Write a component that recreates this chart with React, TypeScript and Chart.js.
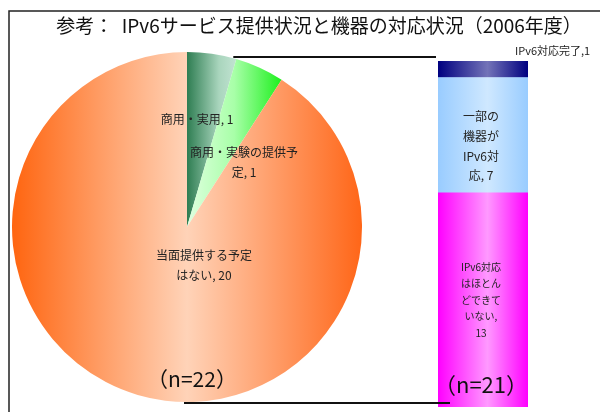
import React, { useEffect, useRef } from "react";
import { Chart, registerables } from "chart.js";
Chart.register(...registerables);

const titleText = "参考：  IPv6サービス提供状況と機器の対応状況（2006年度）";
const pieLabels = ["商用・実用", "商用・実験の提供予定", "当面提供する予定はない"];
const pieValues = [1, 1, 20];
const pieWrap = [[99], [9], [8]];
const pieSampleLabel = "（n=22）";
const barLabels = ["IPv6対応はほとんどできていない", "一部の機器がIPv6対応", "IPv6対応完了"];
const barValues = [13, 7, 1];
const barWrap = [[6, 4, 4, 4], [3, 3, 5], [99]];
const barSep = [", ", ", ", ","];
const barSampleLabel = "（n=21）";

const FONT = '"Noto Sans CJK JP", "Noto Sans", sans-serif';

function wrapText(text: string, counts: number[]): string[] {
  const out: string[] = [];
  let rest = text;
  for (const n of counts) {
    if (rest.length <= n) break;
    out.push(rest.slice(0, n));
    rest = rest.slice(n).trim();
  }
  if (rest.length) out.push(rest);
  return out;
}

function pieGeom(chart: any) {
  const a = chart.chartArea;
  const cx = (a.left + a.right) / 2;
  const cy = (a.top + a.bottom) / 2;
  const r = Math.min(a.right - a.left, a.bottom - a.top) / 2;
  return { cx, cy, r };
}

function pieFill(c: any) {
  const chart = c.chart;
  const a = chart.chartArea;
  if (!a) return "#ffb090";
  const { cx, r } = pieGeom(chart);
  const total = pieValues.reduce((s, v) => s + v, 0);
  let start = 0;
  for (let i = 0; i < c.dataIndex; i++) start += pieValues[i];
  const end = start + pieValues[c.dataIndex];
  let xmin = cx, xmax = cx;
  for (let k = 0; k <= 60; k++) {
    const t = ((start + ((end - start) * k) / 60) / total) * Math.PI * 2;
    const x = cx + r * Math.sin(t);
    xmin = Math.min(xmin, x);
    xmax = Math.max(xmax, x);
  }
  const g = chart.ctx.createLinearGradient(xmin, 0, xmax, 0);
  if (c.dataIndex === 0) {
    g.addColorStop(0, "#2e7d52");
    g.addColorStop(0.65, "#a9d5bd");
    g.addColorStop(1, "#c2e3d2");
  } else if (c.dataIndex === 1) {
    g.addColorStop(0, "#e0ffe0");
    g.addColorStop(0.5, "#a8ffa8");
    g.addColorStop(1, "#1ef01e");
  } else {
    g.addColorStop(0, "#ff6510");
    g.addColorStop(0.5, "#ffd3b8");
    g.addColorStop(1, "#ff6618");
  }
  return g;
}

const barColors = [
  ["#ff00ff", "#ff99ff"],
  ["#99ccff", "#cfe8ff"],
  ["#000080", "#7373b8"],
];

function barFill(i: number) {
  return (c: any) => {
    const chart = c.chart;
    const a = chart.chartArea;
    if (!a) return barColors[i][0];
    const g = chart.ctx.createLinearGradient(a.left, 0, a.right, 0);
    g.addColorStop(0, barColors[i][0]);
    g.addColorStop(0.55, barColors[i][1]);
    g.addColorStop(1, barColors[i][0]);
    return g;
  };
}

export default function App() {
  const pieRef = useRef<HTMLCanvasElement>(null);
  const barRef = useRef<HTMLCanvasElement>(null);

  useEffect(() => {
    const pieLabelPlugin = {
      id: "pieLabels",
      afterDraw(chart: any) {
        const ctx = chart.ctx;
        const { cx, cy, r } = pieGeom(chart);
        const offs = [
          [10 / 175, -108 / 175],
          [57 / 175, -75 / 175],
          [17 / 175, 28 / 175],
        ];
        ctx.save();
        ctx.fillStyle = "#222";
        ctx.textAlign = "center";
        ctx.textBaseline = "middle";
        ctx.font = `12px ${FONT}`;
        pieLabels.forEach((name, i) => {
          const lines = wrapText(`${name}, ${pieValues[i]}`, pieWrap[i]);
          lines.forEach((ln, k) => {
            ctx.fillText(ln, cx + offs[i][0] * r, cy + offs[i][1] * r + k * 20);
          });
        });
        ctx.font = `21px ${FONT}`;
        ctx.fillStyle = "#111";
        ctx.fillText(pieSampleLabel, cx + 5, cy + 0.869 * r);
        ctx.restore();
      },
    };

    const pie = new Chart(pieRef.current!, {
      type: "pie",
      data: {
        labels: pieLabels,
        datasets: [{ data: pieValues, backgroundColor: pieFill as any, borderWidth: 0 }],
      },
      options: {
        animation: false,
        responsive: false,
        layout: { padding: { left: 12, right: 238, top: 52, bottom: 10 } },
        plugins: { legend: { display: false }, tooltip: { enabled: false } },
      },
      plugins: [pieLabelPlugin],
    });

    const total = barValues.reduce((s, v) => s + v, 0);

    const overlayPlugin = {
      id: "overlay",
      afterDraw(chart: any) {
        const ctx = chart.ctx;
        const a = chart.chartArea;
        ctx.save();
        // frame
        ctx.strokeStyle = "#222";
        ctx.lineWidth = 1.5;
        ctx.beginPath();
        ctx.moveTo(9, 412);
        ctx.lineTo(9, 11);
        ctx.lineTo(600, 11);
        ctx.stroke();
        // title
        ctx.fillStyle = "#111";
        ctx.font = `19px ${FONT}`;
        ctx.textAlign = "center";
        ctx.textBaseline = "middle";
        ctx.fillText(titleText, 319, 26);
        // connector lines
        const pm = pie.getDatasetMeta(0).data[0] as any;
        const px = pm.x + pm.outerRadius * Math.cos(pm.endAngle);
        const topY = pm.y - pm.outerRadius + 5;
        const botY = pm.y + pm.outerRadius + 1;
        ctx.strokeStyle = "#111";
        ctx.lineWidth = 2;
        ctx.beginPath();
        ctx.moveTo(px - 3, topY);
        ctx.lineTo(a.left - 2, topY);
        ctx.moveTo(pm.x - 3, botY);
        ctx.lineTo(a.left + 12, botY);
        ctx.stroke();
        // bar labels
        ctx.fillStyle = "#222";
        barLabels.forEach((name, i) => {
          const el = chart.getDatasetMeta(i).data[0] as any;
          const lines = wrapText(`${name}${barSep[i]}${barValues[i]}`, barWrap[i]);
          if (i === 2) {
            ctx.font = `11px ${FONT}`;
            ctx.textAlign = "left";
            ctx.fillText(lines[0], a.right - 13, el.y - 10);
            return;
          }
          ctx.textAlign = "center";
          const size = i === 0 ? 10 : 12;
          const gap = i === 0 ? 16.5 : 19.7;
          ctx.font = `${size}px ${FONT}`;
          const mid = (el.y + el.base) / 2 + (i === 1 ? 11 : 0);
          const h = (lines.length - 1) * gap;
          lines.forEach((ln, k) => {
            ctx.fillText(ln, el.x - 2, mid - h / 2 + k * gap);
          });
        });
        ctx.font = `22px ${FONT}`;
        ctx.fillStyle = "#111";
        ctx.textAlign = "center";
        ctx.fillText(barSampleLabel, (a.left + a.right) / 2 - 2, a.bottom - 22);
        ctx.restore();
      },
    };

    const bar = new Chart(barRef.current!, {
      type: "bar",
      data: {
        labels: [""],
        datasets: barValues.map((v, i) => ({
          label: barLabels[i],
          data: [v],
          backgroundColor: barFill(i) as any,
          borderWidth: 0,
          barPercentage: 1,
          categoryPercentage: 1,
          stack: "s",
        })),
      },
      options: {
        animation: false,
        responsive: false,
        layout: { padding: { left: 438, right: 72, top: 61, bottom: 5 } },
        scales: {
          x: { display: false, stacked: true },
          y: { display: false, stacked: true, min: 0, max: total },
        },
        plugins: { legend: { display: false }, tooltip: { enabled: false } },
      },
      plugins: [overlayPlugin],
    });

    return () => {
      bar.destroy();
      pie.destroy();
    };
  }, []);

  const cs: React.CSSProperties = { position: "absolute", left: 0, top: 0, width: 600, height: 412 };
  return (
    <div style={{ position: "fixed", left: 0, top: 0, width: 600, height: 412, background: "#fff", overflow: "hidden" }}>
      <canvas ref={pieRef} width={600} height={412} style={cs} />
      <canvas ref={barRef} width={600} height={412} style={cs} />
    </div>
  );
}
